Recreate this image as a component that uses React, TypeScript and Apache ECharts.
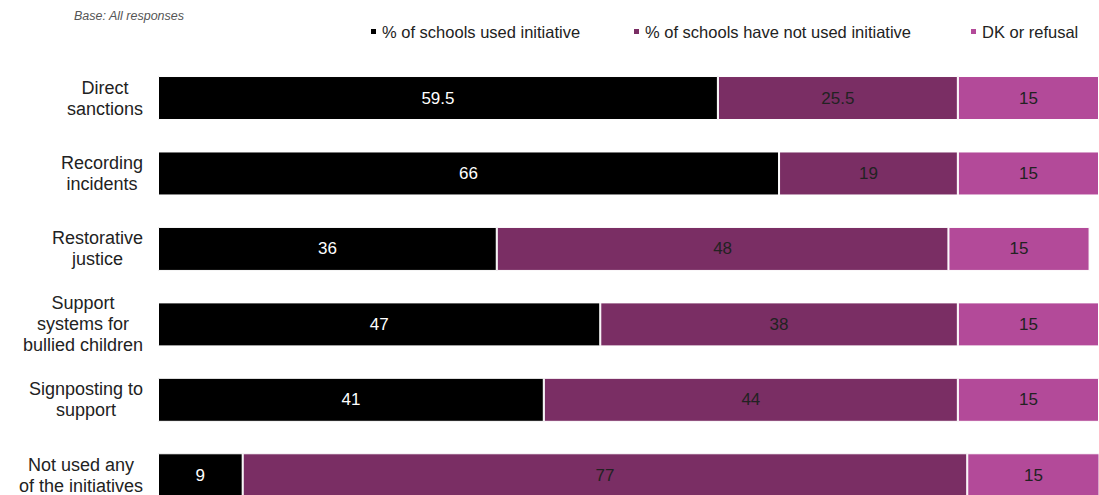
import React, { useEffect, useRef } from "react";
import * as echarts from "echarts";

const categories = [
  "Direct\nsanctions",
  "Recording\nincidents",
  "Restorative\njustice",
  "Support\nsystems for\nbullied children",
  "Signposting to\nsupport",
  "Not used any\nof the initiatives",
];
const usedValues = [59.5, 66, 36, 47, 41, 9];
const notUsedValues = [25.5, 19, 48, 38, 44, 77];
const dkValues = [15, 15, 15, 15, 15, 15];
const seriesNames = [
  "% of schools used initiative",
  "% of schools have not used initiative",
  "DK or refusal",
];
const colors = ["#000000", "#7a2e64", "#b34a99"];
const labelColors = ["#ffffff", "#222222", "#222222"];
const legendLefts = [364, 627, 964];

export default function App() {
  const ref = useRef<HTMLDivElement>(null);
  useEffect(() => {
    if (!ref.current) return;
    const chart = echarts.init(ref.current, null, { renderer: "svg" });
    const font = "'Liberation Sans', Arial, Helvetica, sans-serif";
    const data = [usedValues, notUsedValues, dkValues];
    chart.setOption({
      animation: false,
      textStyle: { fontFamily: font },
      graphic: [
        {
          type: "text",
          left: 74,
          top: 9,
          style: {
            text: "Base: All responses",
            font: `italic 12.5px ${font}`,
            fill: "#555",
          },
        },
      ],
      legend: seriesNames.map((name, i) => ({
        data: [name],
        left: legendLefts[i],
        top: 18,
        itemWidth: 7,
        itemHeight: 7,
        icon: "rect",
        textStyle: { fontSize: 16.5, color: "#222", fontFamily: font },
      })),
      grid: { left: 158, right: 0, top: 60.3, bottom: 0, containLabel: false },
      xAxis: {
        type: "value",
        min: 0,
        max: 100,
        show: false,
      },
      yAxis: {
        type: "category",
        data: categories,
        inverse: true,
        axisLine: { show: false },
        axisTick: { show: false },
        axisLabel: {
          align: "right",
          margin: 15,
          formatter: (v: string) =>
            v
              .split("\n")
              .map((l) => `{c|${l}}`)
              .join("\n"),
          rich: {
            c: {
              align: "center",
              fontSize: 18,
              lineHeight: 21,
              color: "#222",
              fontFamily: font,
            },
          },
        },
      },
      series: seriesNames.map((name, i) => ({
        name,
        type: "bar",
        stack: "total",
        barWidth: 44,
        data: data[i],
        itemStyle: { color: colors[i], borderColor: "#ffffff", borderWidth: 1 },
        label: {
          show: true,
          position: "inside",
          color: labelColors[i],
          fontSize: 17,
          fontFamily: font,
        },
      })),
    });
    return () => chart.dispose();
  }, []);
  return (
    <div
      style={{
        position: "fixed",
        left: 0,
        top: 0,
        width: 1099,
        height: 495,
        overflow: "hidden",
        background: "#fff",
      }}
    >
      <div ref={ref} style={{ width: 1099, height: 513 }} />
    </div>
  );
}
